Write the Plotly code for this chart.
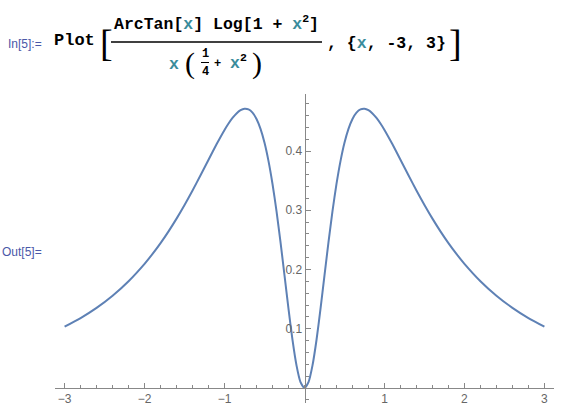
import plotly.graph_objects as go

# ---- data ----
x_vals = [-3.0, -2.8, -2.6, -2.4, -2.2, -2.0, -1.9, -1.8, -1.7, -1.6, -1.5, -1.4, -1.3, -1.2, -1.1,
          -1.0, -0.95, -0.9, -0.85, -0.8, -0.75, -0.7, -0.65, -0.6, -0.55, -0.5, -0.45, -0.4, -0.35,
          -0.3, -0.25, -0.2, -0.15, -0.1, -0.05, 0.0,
          0.05, 0.1, 0.15, 0.2, 0.25, 0.3, 0.35, 0.4, 0.45, 0.5, 0.55, 0.6, 0.65, 0.7, 0.75, 0.8,
          0.85, 0.9, 0.95, 1.0, 1.1, 1.2, 1.3, 1.4, 1.5, 1.6, 1.7, 1.8, 1.9, 2.0, 2.2, 2.4, 2.6,
          2.8, 3.0]
y_vals = [0.10364, 0.11812, 0.13531, 0.15581, 0.18031, 0.20963, 0.22636, 0.24460, 0.26442, 0.28587,
          0.30890, 0.33340, 0.35905, 0.38533, 0.41130, 0.43552, 0.44631, 0.45576, 0.46344, 0.46881,
          0.47128, 0.47016, 0.46468, 0.45402, 0.43733, 0.41384, 0.38293, 0.34436, 0.29842, 0.24625,
          0.19010, 0.13348, 0.08105, 0.03814, 0.00988, 0.0,
          0.00988, 0.03814, 0.08105, 0.13348, 0.19010, 0.24625, 0.29842, 0.34436, 0.38293, 0.41384,
          0.43733, 0.45402, 0.46468, 0.47016, 0.47128, 0.46881, 0.46344, 0.45576, 0.44631, 0.43552,
          0.41130, 0.38533, 0.35905, 0.33340, 0.30890, 0.28587, 0.26442, 0.24460, 0.22636, 0.20963,
          0.18031, 0.15581, 0.13531, 0.11812, 0.10364]
x_tick_vals = [-3, -2, -1, 1, 2, 3]
y_tick_vals = [0.1, 0.2, 0.3, 0.4]
x_range = [-3.12, 3.12]
y_range = [-0.0253, 0.4962]

# ---- layout geometry ----
W, H = 567, 412
L, R, T, B = 55, 13, 94, 9
PW, PH = W - L - R, H - T - B


def px(x):
    return (x - L) / PW


def py(y):
    return (H - B - y) / PH


AXIS = "#888888"
TICKFONT = dict(family="Liberation Sans, Arial, sans-serif", size=12, color="#666666")
MONO = "Liberation Mono, Courier New, monospace"
THIN = "Liberation Serif, serif"
XC = "#3A8C9B"
LABC = "#4A58A8"

fig = go.Figure()
fig.add_trace(go.Scatter(x=x_vals, y=y_vals, mode="lines",
                         line=dict(color="#5E81B5", width=2, shape="spline", smoothing=0.6),
                         hoverinfo="skip", showlegend=False))

xpos = (0 - y_range[0]) / (y_range[1] - y_range[0])
ypos = (0 - x_range[0]) / (x_range[1] - x_range[0])

fig.update_layout(
    width=W, height=H, margin=dict(l=L, r=R, t=T, b=B, autoexpand=False),
    paper_bgcolor="white", plot_bgcolor="white", showlegend=False,
    xaxis=dict(range=x_range, anchor="free", position=xpos, showline=True, linecolor=AXIS, linewidth=1,
               tickmode="array", tickvals=x_tick_vals, ticks="inside", ticklen=5, tickcolor=AXIS,
               tickfont=TICKFONT, showgrid=False, zeroline=False, automargin=False,
               minor=dict(tickmode="linear", tick0=0, dtick=0.2, ticks="inside", ticklen=3,
                          tickcolor=AXIS, showgrid=False)),
    yaxis=dict(range=y_range, anchor="free", position=ypos, showline=True, linecolor=AXIS, linewidth=1,
               tickmode="array", tickvals=y_tick_vals, ticks="inside", ticklen=5, tickcolor=AXIS,
               tickfont=TICKFONT, showgrid=False, zeroline=False, automargin=False,
               minor=dict(tickmode="linear", tick0=0, dtick=0.02, ticks="inside", ticklen=3,
                          tickcolor=AXIS, showgrid=False)),
)


def ann(text, x, y, size, family=MONO, color="black", xanchor="left"):
    fig.add_annotation(text=text, x=px(x), y=py(y), xref="paper", yref="paper", showarrow=False,
                       xanchor=xanchor, yanchor="middle", font=dict(family=family, size=size, color=color))


xs = f"<span style='color:{XC}'>x</span>"
ann("In[5]:=", 6, 44, 12, family="Liberation Sans, Arial, sans-serif", color=LABC)
ann("<b>Plot</b>", 52, 40, 17)
ann("[", 98, 43, 38, family=THIN)
ann(f"<b>ArcTan[{xs}] Log[1 + {xs}<sup>2</sup>]</b>", 216, 23, 16.5, xanchor="center")
fig.add_shape(type="line", xref="paper", yref="paper", x0=px(111), x1=px(322), y0=py(42), y1=py(42),
              line=dict(color="black", width=1.5))
ann(f"<b>{xs}</b>", 174, 64, 16.5, xanchor="center")
ann("(", 183, 63, 30, family=THIN)
ann("<b>1</b>", 205, 54, 12, xanchor="center")
fig.add_shape(type="line", xref="paper", yref="paper", x0=px(201), x1=px(209), y0=py(62.5), y1=py(62.5),
              line=dict(color="black", width=1))
ann("<b>4</b>", 205, 72, 12, xanchor="center")
ann("<b>+</b>", 217, 64, 12, xanchor="center")
ann(f"<b>{xs}<sup>2</sup></b>", 238, 62, 16.5, xanchor="center")
ann(")", 250, 63, 30, family=THIN)
ann(f"<b>, {{{xs}, -3, 3}}</b>", 325, 44, 16.5)
ann("]", 447, 43, 38, family=THIN)
ann("Out[5]=", 0, 252, 12, family="Liberation Sans, Arial, sans-serif", color=LABC)

fig.write_html("out.html", config={"displayModeBar": False, "staticPlot": True},
               post_script="document.body.style.margin='0';document.body.style.padding='0';"
                           "document.documentElement.style.overflow='hidden';")
